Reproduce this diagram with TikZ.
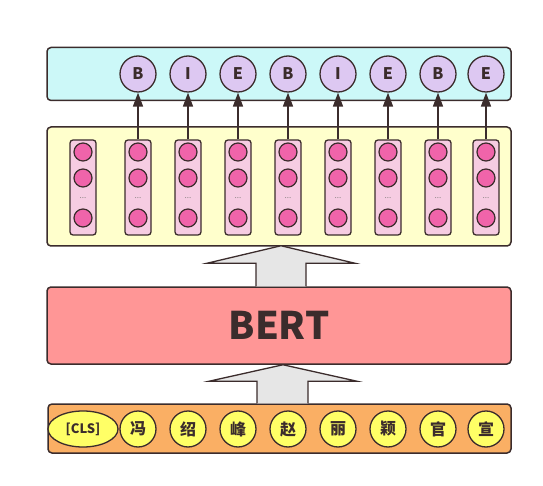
\documentclass[tikz,border=0pt]{standalone}
\usepackage{fontspec}
\setmainfont{Noto Sans CJK SC}
\usetikzlibrary{arrows.meta,shapes.geometric,calc}

\definecolor{ink}{HTML}{3B2C2C}
\definecolor{tagbg}{HTML}{CCF8F8}
\definecolor{tagfill}{HTML}{DDC8F2}
\definecolor{hidbg}{HTML}{FFFFCC}
\definecolor{colfill}{HTML}{F6CCE2}
\definecolor{unitfill}{HTML}{F064AA}
\definecolor{bertfill}{HTML}{FF9696}
\definecolor{tokbg}{HTML}{FAAF64}
\definecolor{tokfill}{HTML}{FFFF66}
\definecolor{pipe}{HTML}{E6E6E6}

\tikzset{
	layer/.style={draw=ink, line width=1.5pt, rounded corners=4pt, inner sep=0pt},
	tag/.style={circle, draw=ink, line width=1.3pt, fill=tagfill, minimum size=36pt, inner sep=0pt, text=ink, font=\bfseries\fontsize{16}{16}\selectfont},
	tok/.style={circle, draw=ink, line width=1.3pt, fill=tokfill, minimum size=36pt, inner sep=0pt, text=ink, font=\bfseries\fontsize{16}{16}\selectfont},
	hcol/.style={draw=ink, line width=1.3pt, fill=colfill, rounded corners=3pt, minimum width=26pt, minimum height=95pt, inner sep=0pt},
	unit/.style={circle, draw=ink, line width=1.2pt, fill=unitfill, minimum size=18pt, inner sep=0pt},
	link/.style={draw=ink, line width=1.6pt, -{Triangle[length=14pt,width=10pt]}},
}

\begin{document}
\begin{tikzpicture}[x=1pt, y=-1pt]
	\useasboundingbox (0,0) rectangle (543,486);
	% layers
	\node[layer, fill=tagbg, minimum width=464pt, minimum height=53pt] (outbox) at (279,74) {};
	\node[layer, fill=hidbg, minimum width=464pt, minimum height=119pt] (hidbox) at (279,186.5) {};
	\node[layer, fill=bertfill, minimum width=464pt, minimum height=77pt, text=ink, font=\bfseries\fontsize{38}{38}\selectfont] (bert) at (279,325.5) {BERT};
	\node[layer, fill=tokbg, minimum width=463pt, minimum height=49pt] (inbox) at (279.5,428.5) {};
	% block arrows
	\draw[draw=ink, line width=1.3pt, fill=pipe]
		($(bert.north)+(-23,0)$) -- ($(bert.north)+(-23,-23)$) -- ($(bert.north)+(-72,-23)$)
		-- ($(hidbox.south)+(2,-1)$) -- ($(bert.north)+(76,-23)$) -- ($(bert.north)+(27,-23)$)
		-- ($(bert.north)+(27,0)$);
	\draw[draw=ink, line width=1.3pt, fill=pipe]
		($(inbox.north)+(-22.5,0)$) -- ($(inbox.north)+(-22.5,-22)$) -- ($(inbox.north)+(-70.5,-22)$)
		-- ($(bert.south)+(4,0)$) -- ($(inbox.north)+(77.5,-22)$) -- ($(inbox.north)+(28.5,-22)$)
		-- ($(inbox.north)+(28.5,0)$);
	% hidden columns
	\foreach \i/\x in {1/83,2/138,3/188,4/238,5/288,6/338,7/388,8/438,9/486} {
		\node[hcol] (col\i) at (\x,187.5) {};
		\node[unit] (u\i a) at (\x,152) {};
		\node[unit] (u\i b) at (\x,178) {};
		\node[text=ink!60, font=\fontsize{8}{8}\selectfont, inner sep=0pt] (u\i d) at (\x,198) {...};
		\node[unit] (u\i c) at (\x,218) {};
	}
	% tags
	\foreach \i/\x/\lab in {2/138/B,3/188/I,4/238/E,5/288/B,6/338/I,7/388/E,8/438/B,9/486/E} {
		\node[tag] (t\i) at (\x,74) {\lab};
		\draw[link] (col\i.north) -- (t\i.south);
	}
	% tokens
	\node[tok, ellipse, minimum width=70pt, font=\bfseries\fontsize{13}{13}\selectfont] (w1) at (83,429) {[CLS]};
	\node[tok] (w2) at (138,429) {冯};
	\node[tok] (w3) at (188,429) {绍};
	\node[tok] (w4) at (238,429) {峰};
	\node[tok] (w5) at (288,429) {赵};
	\node[tok] (w6) at (338,429) {丽};
	\node[tok] (w7) at (388,429) {颖};
	\node[tok] (w8) at (438,429) {官};
	\node[tok] (w9) at (486,429) {宣};
\end{tikzpicture}
\end{document}
